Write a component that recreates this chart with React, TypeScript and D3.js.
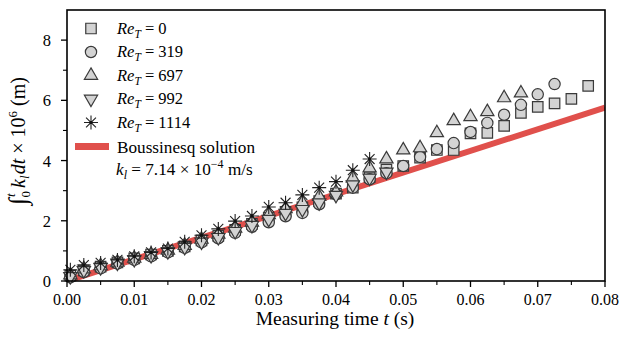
import React from "react";
import * as d3 from "d3";

const W = 625;
const H = 337;

const times = [0.0005, 0.0025, 0.005, 0.0075, 0.01, 0.0125, 0.015, 0.0175, 0.02, 0.0225, 0.025, 0.0275, 0.03, 0.0325, 0.035, 0.0375, 0.04, 0.0425, 0.045, 0.0475, 0.05, 0.0525, 0.055, 0.0575, 0.06, 0.0625, 0.065, 0.0675, 0.07, 0.0725, 0.075, 0.0775];

const re0 = [0.18, 0.35, 0.48, 0.62, 0.75, 0.88, 1.0, 1.15, 1.35, 1.5, 1.7, 1.9, 2.1, 2.3, 2.45, 2.65, 2.9, 3.1, 3.45, 3.7, 3.82, 4.1, 4.35, 4.35, 4.9, 4.92, 5.15, 5.58, 5.78, 5.9, 6.05, 6.48];
const re319 = [0.12, 0.3, 0.42, 0.58, 0.7, 0.82, 0.95, 1.1, 1.28, 1.42, 1.6, 1.8, 1.95, 2.15, 2.26, 2.55, 2.88, 3.1, 3.38, 3.58, 3.82, 4.12, 4.38, 4.58, 4.95, 5.25, 5.52, 5.85, 6.2, 6.54];
const re697 = [0.2, 0.4, 0.5, 0.62, 0.75, 0.88, 1.02, 1.18, 1.38, 1.55, 1.75, 1.95, 2.2, 2.4, 2.6, 2.8, 2.95, 3.42, 3.75, 4.05, 4.35, 4.42, 4.92, 5.32, 5.45, 5.62, 6.08, 6.24];
const re992 = [0.15, 0.35, 0.45, 0.6, 0.72, 0.85, 0.98, 1.12, 1.3, 1.45, 1.65, 1.85, 2.05, 2.25, 2.38, 2.6, 2.85, 3.2, 3.42, 3.62];
const re1114 = [0.37, 0.53, 0.6, 0.7, 0.82, 0.95, 1.08, 1.3, 1.52, 1.73, 1.99, 2.16, 2.46, 2.6, 2.86, 3.1, 3.3, 3.68, 4.05];

const seriesLabels = ["0", "319", "697", "992", "1114"];
const seriesKinds = ["square", "circle", "triangle", "triangleDown", "asterisk"];

const boussinesqT = [0, 0.08];
const boussinesqV = [0, 5.76];

const xTicks = [0, 0.01, 0.02, 0.03, 0.04, 0.05, 0.06, 0.07, 0.08];
const xMinor = [0.005, 0.015, 0.025, 0.035, 0.045, 0.055, 0.065, 0.075];
const yTicks = [0, 2, 4, 6, 8];
const yMinor = [1, 3, 5, 7];

const FONT = '"Liberation Serif", "Times New Roman", Times, "DejaVu Serif", serif';
const FILL = "#d3d3d3";
const STROKE = "#3a3a3a";
const RED = "#e0504c";

function Marker({ kind, cx, cy }: { kind: string; cx: number; cy: number }) {
  if (kind === "asterisk") {
    const r = 7;
    const d = d3.range(4).map((i) => {
      const a = (i * Math.PI) / 4;
      const dx = r * Math.cos(a);
      const dy = r * Math.sin(a);
      return `M${cx - dx},${cy - dy}L${cx + dx},${cy + dy}`;
    }).join("");
    return (
      <g>
        <path d={d} stroke="#222" strokeWidth={1.1} fill="none" />
        <circle cx={cx} cy={cy} r={1.6} fill="#111" />
      </g>
    );
  }
  let sym: any = d3.symbolSquare;
  let size = 110;
  let rot = 0;
  if (kind === "circle") { sym = d3.symbolCircle; size = 100; }
  if (kind === "triangle") { sym = d3.symbolTriangle; size = 76; }
  if (kind === "triangleDown") { sym = d3.symbolTriangle; size = 76; rot = 180; }
  const p = d3.symbol().type(sym).size(size)() as string;
  return (
    <path
      d={p}
      transform={`translate(${cx},${cy}) rotate(${rot})`}
      fill={FILL}
      stroke={STROKE}
      strokeWidth={1.2}
    />
  );
}

export default function App() {
  const x = d3.scaleLinear().domain([0, 0.08]).range([67, 605]);
  const y = d3.scaleLinear().domain([0, 9]).range([281, 10]);
  const series = [re0, re319, re697, re992, re1114];
  const line = d3.line<number>().x((_, i) => x(boussinesqT[i])).y((v) => y(v));
  const ts = { fontFamily: FONT };

  return (
    <svg width={W} height={H} style={{ position: "absolute", left: 0, top: 0, background: "#fff", fontFamily: FONT }}>
      <rect x={0} y={0} width={W} height={H} fill="#fff" />
      <defs>
        <clipPath id="plotclip">
          <rect x={67} y={10} width={538} height={271} />
        </clipPath>
      </defs>

      <path d={line(boussinesqV) as string} stroke={RED} strokeWidth={6} fill="none" clipPath="url(#plotclip)" />

      {series.map((vals, si) => (
        <g key={si}>
          {vals.map((v, i) => (
            <Marker key={i} kind={seriesKinds[si]} cx={x(times[i])} cy={y(v)} />
          ))}
        </g>
      ))}

      <rect x={67} y={10} width={538} height={271} fill="none" stroke="#000" strokeWidth={1.6} />

      {xTicks.map((t) => (
        <g key={"xt" + t}>
          <line x1={x(t)} x2={x(t)} y1={281} y2={287} stroke="#000" strokeWidth={1.3} />
          <text x={x(t)} y={305} fontSize={16} textAnchor="middle" fill="#000" style={ts}>{t.toFixed(2)}</text>
        </g>
      ))}
      {xMinor.map((t) => (
        <line key={"xm" + t} x1={x(t)} x2={x(t)} y1={281} y2={285} stroke="#000" strokeWidth={1.1} />
      ))}
      {yTicks.map((t) => (
        <g key={"yt" + t}>
          <line x1={61} x2={67} y1={y(t)} y2={y(t)} stroke="#000" strokeWidth={1.3} />
          <text x={51} y={y(t) + 6} fontSize={16.5} textAnchor="end" fill="#000" style={ts}>{t}</text>
        </g>
      ))}
      {yMinor.map((t) => (
        <line key={"ym" + t} x1={63} x2={67} y1={y(t)} y2={y(t)} stroke="#000" strokeWidth={1.1} />
      ))}

      <text x={335} y={325} fontSize={19.5} textAnchor="middle" fill="#000" style={ts}>
        Measuring time <tspan fontStyle="italic">t</tspan> (s)
      </text>

      <text transform="translate(25,141) rotate(-90)" fontSize={20} textAnchor="middle" fill="#000" style={ts}>
        <tspan fontSize={25} dy={1}>∫</tspan>
        <tspan fontSize={13} fontStyle="italic" dx={1} dy={-11}>t</tspan>
        <tspan fontSize={13} dx={-4} dy={15}>0</tspan>
        <tspan fontStyle="italic" dx={3} dy={-5}>k</tspan>
        <tspan fontSize={13} fontStyle="italic" dy={4}>l</tspan>
        <tspan fontStyle="italic" dx={1} dy={-4}>dt</tspan>
        <tspan>{" × 10"}</tspan>
        <tspan fontSize={13} dy={-8}>6</tspan>
        <tspan dy={8}>{" (m)"}</tspan>
      </text>

      {seriesLabels.map((lab, i) => {
        const ly = 28.5 + i * 23.5;
        return (
          <g key={"lg" + i}>
            <Marker kind={seriesKinds[i]} cx={91} cy={ly} />
            <text x={117} y={ly + 5} fontSize={16.5} fill="#000" style={ts}>
              <tspan fontStyle="italic">Re</tspan>
              <tspan fontStyle="italic" fontSize={11.5} dy={4}>T</tspan>
              <tspan dy={-4}>{" = " + lab}</tspan>
            </text>
          </g>
        );
      })}
      <line x1={75} x2={109} y1={146.5} y2={146.5} stroke={RED} strokeWidth={7} />
      <text x={117} y={153} fontSize={17.2} fill="#000" style={ts}>Boussinesq solution</text>
      <text x={116} y={175} fontSize={17.2} fill="#000" style={ts}>
        <tspan fontStyle="italic">k</tspan>
        <tspan fontStyle="italic" fontSize={12} dy={4}>l</tspan>
        <tspan dy={-4}>{" = 7.14 × 10"}</tspan>
        <tspan fontSize={12} dy={-7}>−4</tspan>
        <tspan dy={7}>{" m/s"}</tspan>
      </text>
    </svg>
  );
}
